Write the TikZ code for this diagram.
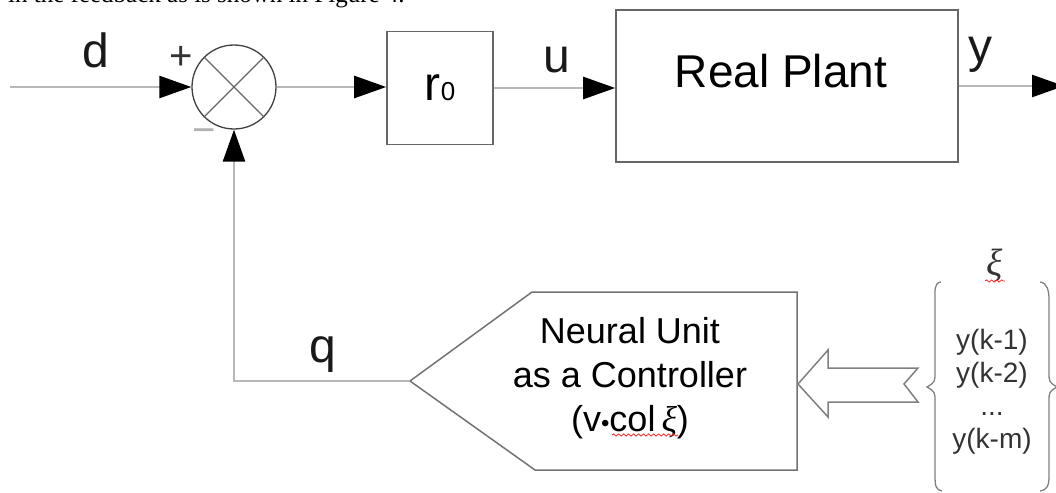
\documentclass[tikz,border=0pt]{standalone}
\usepackage{fontspec}
\setmainfont{Liberation Sans}
\newfontfamily\serifbody{Liberation Serif}
\usepackage{tikz}
\usetikzlibrary{arrows.meta, positioning, calc, decorations.pathmorphing}
\tikzset{
	blk/.style={rectangle, draw=black!60, line width=1.6pt, inner sep=0pt},
	sum_node/.style={circle, draw=black!75, line width=1.3pt, minimum size=84pt, inner sep=0pt},
	sig_conn/.style={draw=black!28, line width=2.6pt, -{Triangle[length=32pt, width=22pt, color=black]}},
	sig_label/.style={anchor=base, font=\fontsize{48}{56}\selectfont, text=black!90},
	sign_label/.style={font=\fontsize{40}{48}\selectfont},
	nu_shape/.style={draw=black!55, line width=1.5pt},
	input_arrow/.style={draw=black!50, line width=1.5pt, line join=miter},
	brace_line/.style={draw=black!50, line width=1.3pt},
	spell_mark/.style={draw=red!85, line width=0.8pt, decorate, decoration={snake, amplitude=1.1pt, segment length=5pt}}
}
\newcommand{\xisym}{{\serifbody\itshape ξ}}

\begin{document}
\begin{tikzpicture}[x=1pt, y=-1pt]
	\useasboundingbox (0,0) rectangle (1056,492);
	\clip (0,0) rectangle (1056,492);
	% text line of the page, cut off at the top
	\node[anchor=base west, inner sep=0pt, font=\serifbody\fontsize{25}{30}\selectfont] (page_txt) at (8,3) {in the feedback as is shown in Figure 4.};
	% forward path
	\coordinate (d_in) at (10,87);
	\node[sum_node] (sum) at (234,87) {};
	\draw[black!60, line width=1.2pt] (sum.45) -- (sum.225) (sum.135) -- (sum.-45);
	\node[blk, minimum width=106pt, minimum height=113pt, font=\fontsize{48}{56}\selectfont] (r0) at (440,88) {r{\fontsize{26}{30}\selectfont 0}};
	\node[blk, minimum width=342pt, minimum height=152pt] (plant) at (787,86) {};
	\node[anchor=base, font=\fontsize{46}{54}\selectfont] (plant_txt) at (781,88) {Real Plant};
	\coordinate (y_out) at (1064,86);
	\draw[sig_conn] (d_in) -- (d_in -| sum.west);
	\draw[sig_conn] (sum.east) -- (sum.east -| r0.west);
	\draw[sig_conn] (r0.east) -- (plant.west |- r0.east);
	\draw[sig_conn] (plant.east) -- (y_out);
	\node[sig_label] (d_lbl) at (96,68) {d};
	\node[sig_label] (u_lbl) at (557,73) {u};
	\node[sig_label] (y_lbl) at (980,63) {y};
	\node[sign_label, text=black!80] (plus_lbl) at (181,58) {+};
	\node[sign_label, text=black!30] (minus_lbl) at (204,136) {−};
	% neural unit
	\coordinate (nu_tip) at (410,381);
	\draw[nu_shape] (nu_tip) -- (532,292) -- (797,292) -- (797,470) -- (535,470) -- cycle;
	\node[align=center, inner sep=0pt, font=\fontsize{36}{44}\selectfont] (nu_txt) at (630,378) {Neural Unit\\as a Controller\\(v{\fontsize{24}{24}\selectfont •}col\,\xisym)};
	\draw[spell_mark] (612,435) -- (678,435);
	\draw[sig_conn] (nu_tip) -| (sum.south);
	\node[sig_label] (q_lbl) at (323,362) {q};
	% regressor vector
	\coordinate (inp_tip) at (798,384);
	\draw[input_arrow] (inp_tip) -- ++(30,-34) -- ++(0,18) -- ++(90,0) -- ++(-14,16) -- ++(14,18) -- ++(-90,0) -- ++(0,15) -- cycle;
	\node[align=center, inner sep=0pt, text=black!80, font=\fontsize{28}{33}\selectfont] (regs) at (992,392) {y(k-1)\\y(k-2)\\...\\y(k-m)};
	\node[text=black!80, font=\fontsize{38}{44}\selectfont] (xi_lbl) at (995,266) {\xisym};
	\draw[spell_mark] (985,281) -- (1005,281);
	\draw[brace_line] (941,282) .. controls (934,283) and (935,290) .. (935,300) -- (935,372) .. controls (935,382) .. (927,387) .. controls (935,392) .. (935,402) -- (935,476) .. controls (935,486) and (936,490) .. (942,491);
	\draw[brace_line] (1040,282) .. controls (1047,283) and (1049,290) .. (1049,300) -- (1049,372) .. controls (1049,382) .. (1057,387) .. controls (1049,392) .. (1049,402) -- (1049,476) .. controls (1049,486) and (1047,490) .. (1040,491);
\end{tikzpicture}
\end{document}
